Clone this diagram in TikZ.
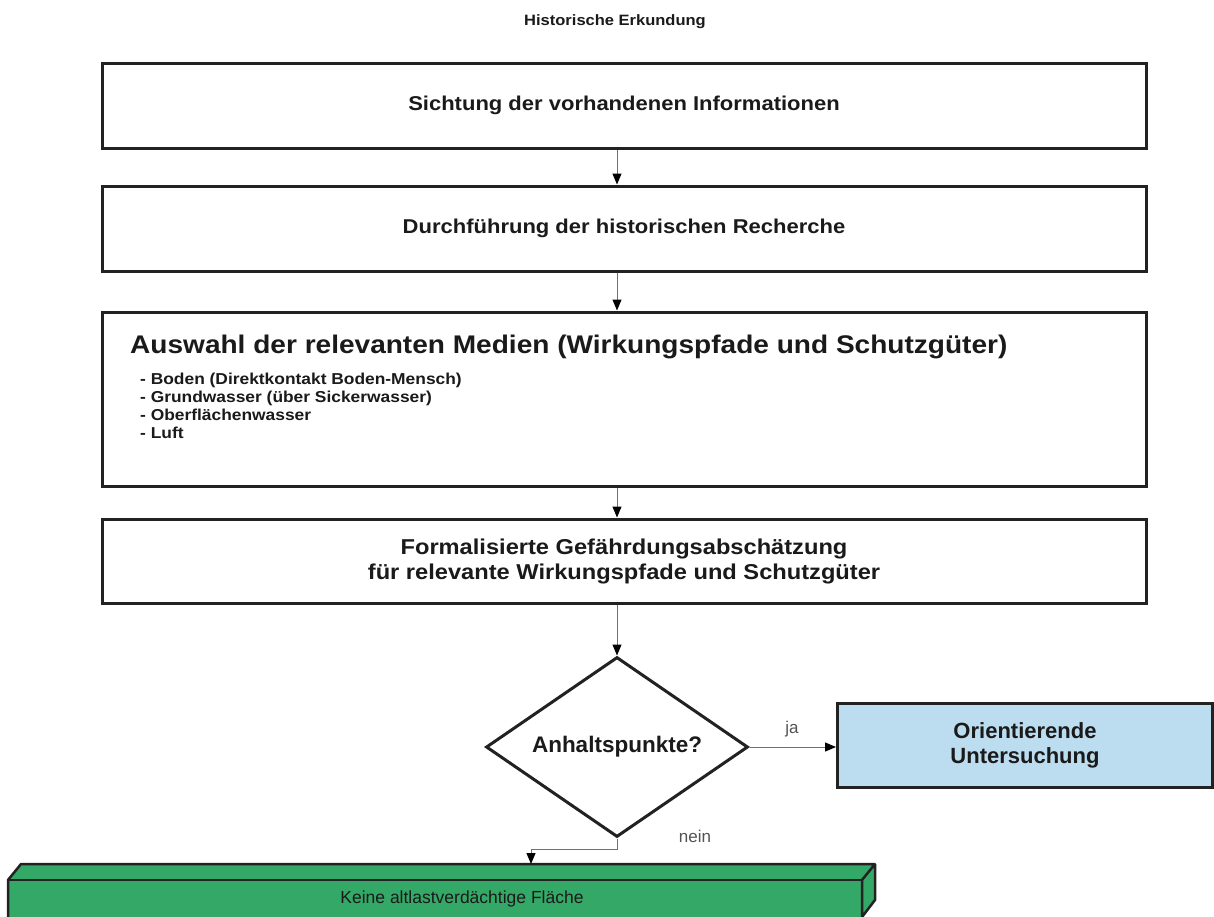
\documentclass[tikz,border=0pt]{standalone}
\usepackage{fontspec}
\setmainfont{Liberation Sans}
\newfontfamily\widefont[FakeStretch=1.1]{Liberation Sans}
\usetikzlibrary{shapes.geometric,arrows.meta}
\definecolor{boxline}{HTML}{222222}
\definecolor{conn}{HTML}{707070}
\definecolor{lblue}{HTML}{BCDCF0}
\definecolor{gfill}{HTML}{34A866}
\definecolor{txt}{HTML}{1A1A1A}
\tikzset{
  flowbox/.style={draw=boxline, line width=3pt, fill=white, rectangle, minimum width=1044pt, inner sep=0pt, text=txt, font=\widefont\bfseries\fontsize{20}{25}\selectfont, align=center},
  conline/.style={draw=conn, line width=1pt, -{Triangle[length=11pt,width=9pt,color=black]}},
  lbl/.style={text=txt!75, font=\fontsize{17}{19}\selectfont},
}
\begin{document}
\begin{tikzpicture}[x=1pt,y=-1pt]
\useasboundingbox (0,0) rectangle (1214,916);
\clip (0,0) rectangle (1214,916);
\node[text=txt, font=\widefont\bfseries\fontsize{15}{19}\selectfont] (title) at (615,22) {Historische Erkundung};
\node[flowbox, minimum height=85pt] (b1) at (624,105.5) {Sichtung der vorhandenen Informationen};
\node[flowbox, minimum height=85pt] (b2) at (624,228.5) {Durchführung der historischen Recherche};
\node[flowbox, minimum height=174pt] (b3) at (624,399) {};
\node[anchor=west, text=txt, font=\widefont\bfseries\fontsize{25.5}{28}\selectfont, inner sep=0pt] (b3h) at (130,347) {Auswahl der relevanten Medien (Wirkungspfade und Schutzgüter)};
\node[anchor=north west, text=txt, font=\widefont\bfseries\fontsize{15.8}{18}\selectfont, align=left, inner sep=0pt] (b3l) at (140,373) {- Boden (Direktkontakt Boden-Mensch)\\- Grundwasser (über Sickerwasser)\\- Oberflächenwasser\\- Luft};
\node[flowbox, minimum height=84pt, font=\widefont\bfseries\fontsize{21.5}{25}\selectfont] (b4) at (624,561) {Formalisierte Gefährdungsabschätzung\\für relevante Wirkungspfade und Schutzgüter};
\node[diamond, aspect=1.455, draw=boxline, line width=3pt, fill=white, minimum width=262pt, minimum height=180pt, inner sep=0pt, text=txt, font=\bfseries\fontsize{22.5}{26}\selectfont] (d) at (617,747) {Anhaltspunkte?};
\node[draw=boxline, line width=3pt, fill=lblue, minimum width=375pt, minimum height=84pt, inner sep=0pt, text=txt, font=\bfseries\fontsize{22}{25}\selectfont, align=center] (ou) at (1025,745) {Orientierende\\Untersuchung};
% green 3D bar
\fill[gfill] (8,880) -- (21,864) -- (875,864) -- (875,900) -- (862,917) -- (8,917) -- cycle;
\draw[boxline, line width=2.5pt, line join=round] (8,917) -- (8,880) -- (21,864) -- (875,864) -- (875,900) -- (862,917) -- (862,880) -- (875,864);
\draw[boxline, line width=2.5pt] (8,880) -- (862,880);
\node[text=txt, font=\fontsize{17.5}{20}\selectfont] (g) at (462,899) {Keine altlastverdächtige Fläche};
\coordinate (gtop) at (531,864);
\coordinate (ax) at (617,0);
% connectors
\draw[conline] (b1.south -| ax) -- (b2.north -| ax);
\draw[conline] (b2.south -| ax) -- (b3.north -| ax);
\draw[conline] (b3.south -| ax) -- (b4.north -| ax);
\draw[conline] (b4.south -| ax) -- (d.north);
\draw[conline] (d.east) -- (d.east -| ou.west);
\draw[conline] (d.south) -- ++(0,11) -| (gtop);
\node[lbl, anchor=south] (ja) at (792,741) {ja};
\node[lbl, anchor=south] (nein) at (695,846) {nein};
\end{tikzpicture}
\end{document}
